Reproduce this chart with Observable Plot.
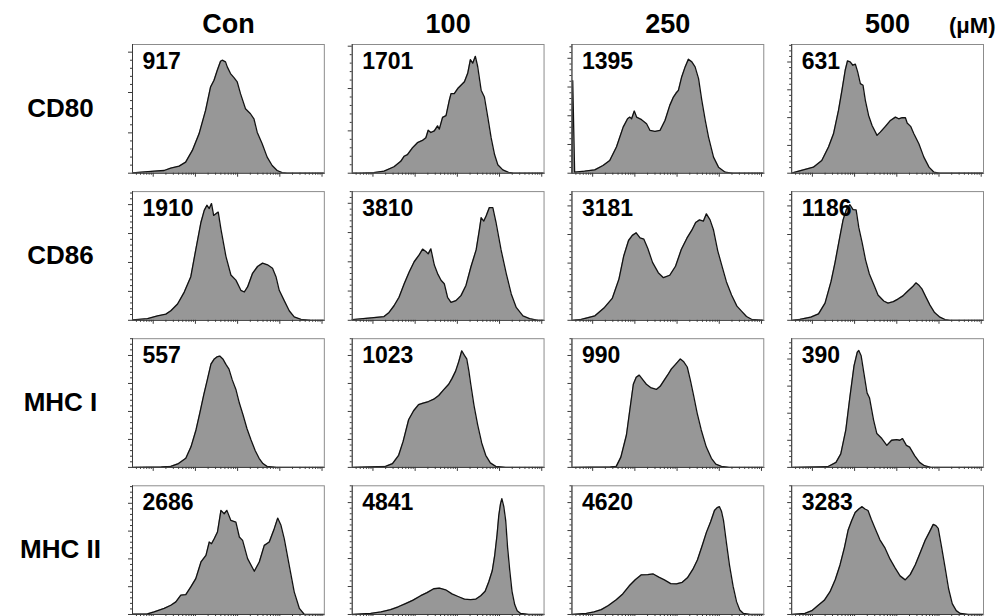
<!DOCTYPE html>
<html><head><meta charset="utf-8">
<script src="https://cdn.jsdelivr.net/npm/d3@7"></script>
<script src="https://cdn.jsdelivr.net/npm/@observablehq/plot@0.6"></script>
<style>body{margin:0;background:#fff;} #chart svg{display:block}</style>
</head><body><div id="chart"></div>
<script>
// ---------- data ----------
const markers = ["CD80", "CD86", "MHC I", "MHC II"];
const conditions = ["Con", "100", "250", "500"];
const unitLabel = "(μM)";
const mfiValues = [
  [917, 1701, 1395, 631],
  [1910, 3810, 3181, 1186],
  [557, 1023, 990, 390],
  [2686, 4841, 4620, 3283]
];
// top of each panel's count axis, in axis tick units
const yAxisTop = [
  [3.19, 3.04, 4.48, 4.63],
  [4.45, 4.4, 4.5, 4.5],
  [4.6, 4.6, 4.6, 4.75],
  [4.63, 4.6, 4.6, 4.6]
];
// histograms: [channel (% of display range), count (% of axis height)]
const hist_CD80_Con = [[0,0.3],[11.3,1.6],[16.5,2.1],[19.9,3.9],[24.3,5.5],[27.7,8.6],[31.2,17.7],[34.7,30.6],[38.1,48.8],[40.7,67],[42.5,72.2],[44.2,80],[45.9,87],[46.8,87.8],[48.5,86.5],[49.4,82.6],[51.1,77.4],[52.9,74.3],[54.6,70.9],[56.3,61.8],[58.9,50.1],[61.5,46.2],[63.3,42.3],[65,31.9],[67.6,22.9],[70.2,12.5],[72.8,6],[75.4,2.1],[78,0.5],[80.6,0],[100,0]];
const hist_CD80_100 = [[0,0],[4.4,0],[11.3,0.5],[16.6,1.6],[21.8,5],[25.3,9.2],[27.1,13.2],[28.8,14.5],[31.4,19.7],[34,23.7],[36.6,25.5],[38.4,27.6],[39.6,33.4],[41,31.6],[42.8,32.9],[44.5,36.8],[45.4,34.2],[47.1,43.4],[48.9,44.7],[50.6,56.6],[51.5,61.8],[53.2,61.8],[55,65.8],[56.7,68.4],[58.5,71.1],[60.2,77.6],[61.6,88.2],[62.8,85.5],[64.2,90.8],[65.4,82.9],[67.2,64.5],[68.9,59.2],[70.7,43.4],[72.4,27.6],[74.2,14.5],[75.9,6.6],[78.5,2.6],[81.2,0.8],[83.8,0],[100,0]];
const hist_CD80_250 = [[0,0],[0.4,72],[1.4,0.8],[6.6,1.6],[11.9,2.6],[16.2,6],[19.7,9.9],[23.2,20.3],[26.7,35.8],[29,42.3],[30.2,43.6],[31.1,42.3],[32.5,48.3],[33.7,43.6],[36.3,41.6],[38.9,38.4],[40.7,33.2],[43.3,32.5],[45.9,33.2],[48.5,41],[51,52.7],[52.9,59.2],[54.3,62.3],[55.5,64.4],[57.2,74.8],[59,82.6],[60.7,88.6],[62.5,86.5],[64.2,82.6],[66,73.5],[67.7,56.6],[69.5,41],[71.2,28.1],[73.8,12.5],[76.4,4.7],[79.9,0.8],[83.4,0],[100,0]];
const hist_CD80_500 = [[0,0],[0.9,0.5],[6.1,2.6],[11.3,4.7],[15.7,9.9],[19.2,20.3],[21.8,30.6],[24.4,48.8],[26.2,64.4],[27.9,80],[29.1,87.3],[30.5,86.5],[31.9,83.9],[33.2,84.7],[34.4,78.7],[35.8,69.6],[37.2,68.3],[38.4,56.6],[40.1,44.9],[41.9,37.1],[44.5,29.4],[46.2,31.9],[48.9,36.4],[51.5,41],[54.1,43.6],[55.8,42.3],[57.6,43.1],[59.3,43.1],[60.2,39],[62,36.4],[63.7,30.6],[66.3,22.9],[68.9,12.5],[71.6,4.7],[74.2,0.8],[76.8,0],[100,0]];
const hist_CD86_Con = [[0,0.3],[7.8,1.3],[13,3.4],[17.4,4.8],[20,7.4],[23.5,12.7],[27,21.9],[30.4,33.9],[33,55],[35.7,76.2],[37.4,85.4],[38.8,89.4],[40,86.8],[41.2,90.7],[42.3,81.5],[43.5,82.8],[44.7,84.1],[46.1,70.9],[48.7,49.7],[51.3,35.2],[53.9,31.2],[56.5,23.3],[58.3,22],[60,25.9],[62.6,36.5],[65.2,41.8],[67.8,44.4],[70.4,43.1],[73,40.5],[74.8,33.9],[76.5,23.3],[79.1,15.3],[81.7,7.4],[84.3,2.6],[87.8,0.8],[93,0],[100,0]];
const hist_CD86_100 = [[0,0.5],[11.3,2.1],[16.6,2.9],[19.2,6.1],[21.8,11.3],[24.4,17.9],[27.1,28.4],[29.7,37.6],[32.3,45.5],[34.9,50.8],[36.7,55.3],[38.4,53.4],[39.6,51.6],[41,55.5],[42.8,42.9],[44.5,36.3],[46.3,31.1],[48,28.4],[49.7,17.9],[51.5,13.9],[54.1,15.3],[56.7,19.2],[59.3,27.1],[61.9,41.6],[64.6,54.7],[66.3,70.5],[67.2,79.7],[68.6,77.1],[69.8,81.1],[71.5,87.6],[73.3,87.6],[75,75.8],[77.6,54.7],[80.3,36.3],[82.9,20.5],[85.5,10],[89,3.4],[92.5,1.3],[96.9,0],[100,0]];
const hist_CD86_250 = [[0,0],[4.9,0.8],[12,3.5],[17,10],[21,17],[24.5,32],[27,50],[29.5,62],[31.5,66],[33.5,68],[35.5,64],[37.5,63],[39.5,56],[42,45],[45,37],[47.7,33.1],[51,35],[54,42],[57,55],[60,64],[62.5,70],[64.5,76],[66.5,78],[68.5,77],[70.1,82.7],[72,78],[73.8,70.1],[76,54],[78,43.3],[80.5,30],[83.2,19.7],[86,11],[88.4,7.1],[91,3],[93.6,0.8],[100,0]];
const hist_CD86_500 = [[0,0],[4.3,0.8],[10,2.5],[14,5],[17.4,13.4],[20.5,30],[22.6,44.9],[25,64],[26.8,78],[28.5,86],[30.4,89.8],[32,86],[33.6,85.8],[35,72],[36.7,60.6],[38.5,47],[40.5,36],[43,27],[45,19.7],[48,15],[50.2,13.4],[53,14.5],[55.4,16.5],[58,19],[60.6,22.8],[63,26],[64.8,29.1],[66.5,27],[67.9,24.4],[70,18],[72.1,11.8],[74.5,6],[77.3,2.4],[80,0.6],[82.5,0],[100,0]];
const hist_MHCI_Con = [[0,0],[15,0.3],[20,0.8],[24,3],[27.8,7.1],[30.5,16],[33.1,29.1],[35.2,43],[37.2,56.7],[39,68],[40.9,80.3],[42.5,84],[44,85.8],[45.5,86.5],[47.1,84.3],[48.7,80],[50.3,76.4],[52,68],[53.9,60.6],[55.7,50],[57.6,40.9],[59.7,30],[61.8,21.3],[64,13],[66,7.1],[68,3],[70.1,0.8],[75,0],[100,0]];
const hist_MHCI_100 = [[0,0],[17.4,0.8],[21,3],[24.2,9.4],[26.5,20],[29.4,37],[32,44],[34.6,48.8],[37,50],[39.8,51.2],[42.5,53],[45.1,55.9],[47.5,60],[50.3,64.6],[52,69],[53.9,74.8],[55.5,82],[57.1,90.6],[58.5,87],[59.7,84.3],[60.8,75],[61.8,64.6],[63.5,48],[65.4,33.1],[67.5,19],[69.6,9.4],[72,3.5],[74.8,0.8],[80,0],[100,0]];
const hist_MHCI_250 = [[0,0],[20,0.3],[23.1,0.8],[25.5,8],[28.4,25.2],[30.2,45],[32,64.6],[33.5,70],[35.1,71.7],[37,68],[38.8,64.6],[41,62],[44,60.6],[46,63],[47.7,66.9],[50,72],[51.8,76.4],[54,80],[56.5,84.3],[58.3,82],[60.1,78],[61.7,68],[63.3,56.7],[65.3,42],[67.4,29.1],[70,16],[72.7,7.1],[75,2.5],[77.9,0.8],[82,0],[100,0]];
const hist_MHCI_500 = [[0,0],[18.8,0.5],[23.1,3.9],[25.6,10.5],[28.2,28.9],[30.4,55.3],[32.5,78.9],[34.2,89.5],[35,90.8],[36.2,86.8],[37.6,73.7],[39.3,57.9],[40.6,53.9],[42.7,36.8],[44.4,26.3],[47,22.4],[49.6,17.1],[52.1,21.1],[54.7,21.6],[56.4,21.1],[57.8,22.4],[59.8,17.1],[61.5,15.8],[64.1,9.2],[66.7,3.9],[69.2,1.3],[72.6,0],[100,0]];
const hist_MHCII_Con = [[0,0.3],[7.8,0.5],[11.3,2.1],[16.5,4.7],[20,7.2],[22.6,9.8],[25.2,15],[27.8,15.5],[30.4,21.4],[33,27.9],[35.7,40.8],[38.3,46],[40,56.3],[41.2,55],[42.6,58.9],[44.3,64.1],[46.1,80.9],[47.8,78.3],[49.2,80.9],[51.3,73.1],[53.9,71.8],[55.7,60.2],[57.4,57.6],[60,43.4],[63.5,33.6],[66.1,40.8],[68.7,53.7],[71.3,56.3],[73.9,66.7],[75.7,74.9],[77.4,69.3],[79.1,58.9],[81.7,38.2],[84.3,17.6],[87,4.7],[89.6,0],[100,0]];
const hist_MHCII_100 = [[0,0],[9.6,0.8],[15,2],[20,3.8],[24,6],[27.8,8.5],[31.5,11],[35.7,14.6],[39,17],[42.5,20],[45.5,20.5],[48.7,19.2],[52,16],[55.5,13.8],[58.5,12],[61.7,11.5],[64.5,12],[67,14.6],[69.3,18],[71.2,25.4],[73,34],[74.3,46.2],[75.5,62],[76.4,76.9],[77.3,86],[78,90],[79,84],[80,73.1],[81,52],[82.1,34.6],[83.3,18],[84.7,7.7],[86,3],[87.8,0.8],[92,0],[100,0]];
const hist_MHCII_250 = [[0,0],[7.5,0.8],[11.5,2],[15.3,3.8],[19,7],[23.1,11.5],[26.5,16],[29.9,22.3],[33,27],[36.2,30.8],[39.5,31],[42.4,31.5],[45.3,29],[48.2,26.9],[51.5,24],[54.5,23.8],[57.5,25],[60.2,28.5],[63,35],[65.4,42.3],[68,54],[70.1,63.8],[72.3,72],[74.3,80.8],[75.7,83],[76.9,83.8],[78,80],[79,73.1],[80.5,56],[82.1,38.5],[84,22],[85.8,10],[87.5,3.5],[89.4,0.8],[93,0],[100,0]];
const hist_MHCII_500 = [[0,0],[6.9,0.8],[10.5,3],[13.7,6.9],[17,11],[20,17.7],[22.7,27],[25.2,38.5],[27.5,52],[29.4,65.4],[31.3,73],[33.1,79.2],[35,82],[36.7,83.8],[38.2,82],[39.8,80.8],[41.5,74],[43.5,66.9],[46,58],[48.7,51.5],[51.3,43],[53.9,36.2],[56.5,30],[59.2,26.9],[61.8,31],[64.4,38.5],[67,48],[69.6,57.7],[71.8,64],[73.8,70],[75.2,69],[76.4,66.9],[78.2,52],[80,36.2],[81.8,20],[83.7,8.5],[85.8,3],[87.9,0.8],[92,0],[100,0]];
const histograms = [
  [hist_CD80_Con, hist_CD80_100, hist_CD80_250, hist_CD80_500],
  [hist_CD86_Con, hist_CD86_100, hist_CD86_250, hist_CD86_500],
  [hist_MHCI_Con, hist_MHCI_100, hist_MHCI_250, hist_MHCI_500],
  [hist_MHCII_Con, hist_MHCII_100, hist_MHCII_250, hist_MHCII_500]
];
// log axis: channel of the first decade and channel width of one decade
const firstDecadeChannel = 10.8;
const decadeWidth = 22;
const decades = [0, 1, 2, 3, 4];

// ---------- layout ----------
const W = 1004, H = 616, mL = 132, mR = 21, mT = 44, mB = 2, padX = 0.127, padY = 0.125;
const bandW = (W - mL - mR) / (4 - padX) * (1 - padX);
const bandH = (H - mT - mB) / (4 - padY) * (1 - padY);
const xPerPx = 100 / bandW, yPerPx = 100 / bandH;

// ---------- derived tables ----------
const curve = [];
markers.forEach((m, i) => conditions.forEach((c, j) =>
  histograms[i][j].forEach(([x, y]) => curve.push({marker: m, cond: c, x, y}))));

const mfiRows = [];
markers.forEach((m, i) => conditions.forEach((c, j) => mfiRows.push({marker: m, cond: c, mfi: mfiValues[i][j]})));

const xMajor = decades.map(d => firstDecadeChannel + d * decadeWidth);
const xMinor = [];
[-1, 0, 1, 2, 3].forEach(d => { for (let k = 2; k <= 9; k++) {
  const v = firstDecadeChannel + (d + Math.log10(k)) * decadeWidth;
  if (v >= 0 && v <= 100) xMinor.push(v);
}});

const yTicks = [];
markers.forEach((m, i) => conditions.forEach((c, j) => {
  const top = yAxisTop[i][j];
  for (let s = 0; s * 0.2 <= top + 1e-9; s++) {
    yTicks.push({marker: m, cond: c, y: (s * 0.2) / top * 100, major: s % 5 === 0});
  }
}));

const font = "'Liberation Sans', Arial, Helvetica, sans-serif";
const axisColor = "#3a3a3a";

const chart = Plot.plot({
  width: W, height: H,
  marginLeft: mL, marginRight: mR, marginTop: mT, marginBottom: mB,
  x: {domain: [0, 100], axis: null},
  y: {domain: [0, 100], axis: null},
  fx: {domain: conditions, paddingInner: padX, paddingOuter: 0, axis: null, round: false},
  fy: {domain: markers, paddingInner: padY, paddingOuter: 0, axis: null, round: false},
  style: {fontFamily: font, background: "#fff", color: "#000"},
  marks: [
    Plot.areaY(curve, {x: "x", y: "y", fx: "cond", fy: "marker", fill: "#979797", curve: "linear"}),
    Plot.lineY(curve, {x: "x", y: "y", fx: "cond", fy: "marker", stroke: "#111", strokeWidth: 1.3, curve: "linear"}),
    Plot.frame({stroke: "#8c8c8c", strokeWidth: 1}),
    Plot.ruleX([0], {stroke: axisColor, strokeWidth: 1}),
    Plot.ruleY([0], {stroke: axisColor, strokeWidth: 1}),
    // x ticks (log decades)
    Plot.ruleX(xMajor, {x: d => d, y1: 0, y2: -4 * yPerPx, stroke: axisColor, strokeWidth: 1}),
    Plot.ruleX(xMinor, {x: d => d, y1: 0, y2: -2 * yPerPx, stroke: axisColor, strokeWidth: 1}),
    // y ticks per panel
    Plot.ruleY(yTicks, {fx: "cond", fy: "marker", y: "y", x1: 0, x2: d => -(d.major ? 4 : 2) * xPerPx, stroke: axisColor, strokeWidth: 1}),
    // MFI labels
    Plot.text(mfiRows, {fx: "cond", fy: "marker", text: d => String(d.mfi), frameAnchor: "top-left",
      textAnchor: "start", lineAnchor: "top", dx: 10, dy: 8, fontSize: 23, fontWeight: "bold", fill: "#000"}),
    // column headers
    Plot.text(conditions, {fx: d => d, fy: () => markers[0], text: d => d, frameAnchor: "top",
      lineAnchor: "bottom", dy: -12, fontSize: 27, fontWeight: "bold", fill: "#000"}),
    Plot.text([unitLabel], {fx: () => conditions[3], fy: () => markers[0], text: d => d, frameAnchor: "top-right",
      textAnchor: "end", lineAnchor: "bottom", dx: 12, dy: -12, fontSize: 22, fontWeight: "bold", fill: "#000"}),
    // row labels
    Plot.text(markers, {fy: d => d, fx: () => conditions[0], text: d => d, frameAnchor: "left",
      textAnchor: "middle", lineAnchor: "middle", dx: -72, fontSize: 26, fontWeight: "bold", fill: "#000"})
  ]
});
document.getElementById("chart").appendChild(chart);
</script>
</body></html>
